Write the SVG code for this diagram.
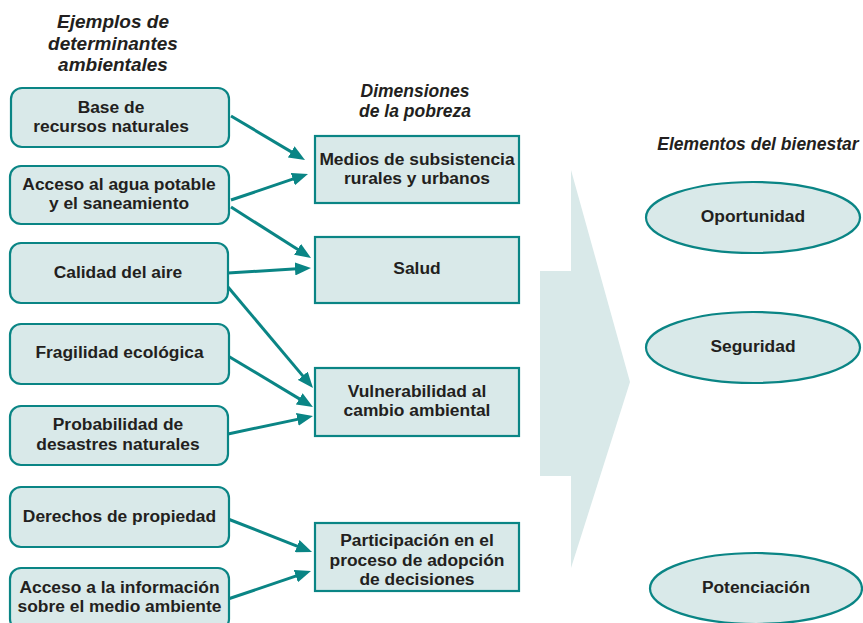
<svg xmlns="http://www.w3.org/2000/svg" width="863" height="623" viewBox="0 0 863 623">
<defs>
<style>
.box{fill:#d9e9e9;stroke:#0a8585;stroke-width:2.2}
.t{font-family:"Liberation Sans",Arial,sans-serif;font-weight:bold;font-size:17.4px;fill:#231f20;text-anchor:middle}
.h{font-family:"Liberation Sans",Arial,sans-serif;font-weight:bold;font-style:italic;fill:#231f20;text-anchor:middle}
.c{fill:none;stroke:#0a8585;stroke-width:3;marker-end:url(#ah)}
</style>
<marker id="ah" markerUnits="userSpaceOnUse" markerWidth="16" markerHeight="13" refX="6" refY="6.5" orient="auto">
<path d="M0,0 L16,6.5 L0,13 z" fill="#0a8585"/>
</marker>
</defs>
<rect width="863" height="623" fill="#ffffff"/>
<polygon points="571,170 630,382 571,568 571,476 540,476 540,271 571,271" fill="#d9e9e9"/>
<g id="titles">
<text class="h" font-size="19" x="113" y="28">Ejemplos de</text>
<text class="h" font-size="19" x="113" y="50">determinantes</text>
<text class="h" font-size="19" x="113" y="71">ambientales</text>
<text class="h" font-size="17.5" x="415" y="97">Dimensiones</text>
<text class="h" font-size="17.5" x="415" y="117">de la pobreza</text>
<text class="h" font-size="17.5" x="758" y="150">Elementos del bienestar</text>
</g>
<g id="connectors">
<line class="c" x1="231" y1="116" x2="296.4" y2="154.9"/>
<line class="c" x1="231" y1="200" x2="298.5" y2="177.2"/>
<line class="c" x1="231" y1="207" x2="302.6" y2="252.6"/>
<line class="c" x1="228" y1="273" x2="301" y2="268.6"/>
<line class="c" x1="228" y1="287" x2="306.6" y2="380.4"/>
<line class="c" x1="228" y1="356" x2="304.4" y2="401.9"/>
<line class="c" x1="228" y1="434" x2="303.2" y2="418.1"/>
<line class="c" x1="228" y1="519" x2="302.7" y2="548.3"/>
<line class="c" x1="228" y1="599" x2="301.5" y2="574.2"/>
</g>
<g id="n-base"><rect class="box" x="11" y="88" width="218" height="59" rx="11"/>
<text class="t" x="111" y="113">Base de</text><text class="t" x="111" y="132">recursos naturales</text></g>
<g id="n-agua"><rect class="box" x="10" y="166" width="219" height="58" rx="11"/>
<text class="t" x="119" y="190">Acceso al agua potable</text><text class="t" x="119" y="209">y el saneamiento</text></g>
<g id="n-aire"><rect class="box" x="10" y="243" width="218" height="60" rx="11"/>
<text class="t" x="118" y="278">Calidad del aire</text></g>
<g id="n-fragilidad"><rect class="box" x="10" y="324" width="219" height="60" rx="11"/>
<text class="t" x="119.5" y="358">Fragilidad ecológica</text></g>
<g id="n-desastres"><rect class="box" x="10" y="406" width="218" height="59" rx="11"/>
<text class="t" x="118" y="430">Probabilidad de</text><text class="t" x="118" y="450">desastres naturales</text></g>
<g id="n-derechos"><rect class="box" x="10" y="487" width="219" height="60" rx="11"/>
<text class="t" x="119.5" y="522">Derechos de propiedad</text></g>
<g id="n-info"><rect class="box" x="10" y="568" width="219" height="62" rx="11"/>
<text class="t" x="119.5" y="593">Acceso a la información</text><text class="t" x="119.5" y="612">sobre el medio ambiente</text></g>
<g id="n-medios"><rect class="box" x="315" y="136" width="204" height="67"/>
<text class="t" x="417" y="165">Medios de subsistencia</text><text class="t" x="417" y="184">rurales y urbanos</text></g>
<g id="n-salud"><rect class="box" x="315" y="237" width="204" height="66"/>
<text class="t" x="417" y="274">Salud</text></g>
<g id="n-vuln"><rect class="box" x="315" y="368" width="204" height="68"/>
<text class="t" x="417" y="397">Vulnerabilidad al</text><text class="t" x="417" y="416">cambio ambiental</text></g>
<g id="n-part"><rect class="box" x="315" y="523" width="204" height="68"/>
<text class="t" x="417" y="546">Participación en el</text><text class="t" x="417" y="566">proceso de adopción</text><text class="t" x="417" y="585">de decisiones</text></g>
<g id="n-oportunidad"><ellipse class="box" cx="753" cy="217.5" rx="107" ry="35.5"/>
<text class="t" x="753" y="222">Oportunidad</text></g>
<g id="n-seguridad"><ellipse class="box" cx="753" cy="347.5" rx="107" ry="35.5"/>
<text class="t" x="753" y="352">Seguridad</text></g>
<g id="n-potenciacion"><ellipse class="box" cx="756" cy="588.5" rx="106" ry="35.5"/>
<text class="t" x="756" y="593">Potenciación</text></g>
</svg>
